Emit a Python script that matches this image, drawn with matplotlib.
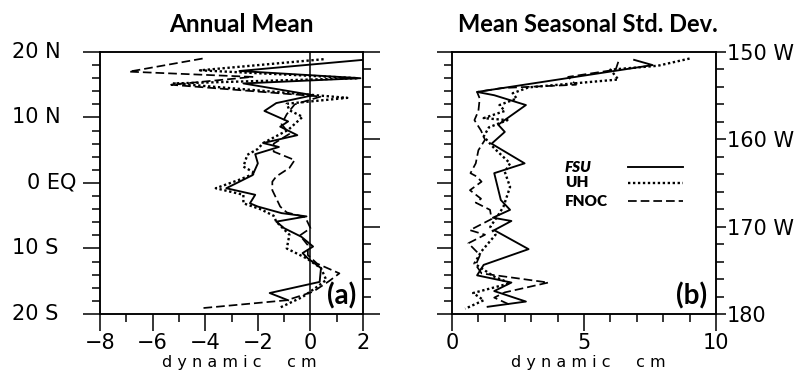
import matplotlib

matplotlib.use("Agg")
import matplotlib.pyplot as plt
import matplotlib.transforms as mtransforms
from matplotlib.ticker import FixedLocator, MultipleLocator

# ---- data: (latitude, value) vertices ----
# (a) annual mean, dynamic cm
fsu_mean_lat = [18.8, 17.1, 16.0, 15.2, 13.4, 12.2, 11.0, 9.4, 8.6, 7.3, 6.1, 5.5, 4.4, 3.0, 1.2,
                -0.8, -1.8, -3.1, -3.6, -4.6, -5.1, -5.9, -6.9, -8.2, -9.7, -10.7, -11.5, -13.0,
                -15.1, -16.8, -17.9]
fsu_mean = [2.0, -2.7, 1.9, -2.55, 0.1, -1.3, -1.75, -0.85, -1.15, -0.5, -1.8, -1.2, -2.1, -2.0, -2.2,
            -3.2, -2.1, -2.3, -2.0, -1.1, -0.15, -1.3, -1.0, -0.35, 0.1, -0.3, -0.1, 0.4,
            0.35, -1.55, -0.85]

uh_mean_lat = [18.9, 17.2, 16.0, 15.2, 13.0, 12.1, 11.1, 10.1, 8.1, 6.1, 5.2, 4.3, 2.5, 1.5, 0.5,
               -0.8, -1.8, -3.1, -4.0, -5.0, -5.9, -7.9, -10.0, -11.5, -13.0, -14.8, -16.0,
               -17.4, -19.1]
uh_mean = [0.5, -4.2, 1.8, -5.2, 1.4, -0.9, -0.8, -0.3, -0.85, -1.8, -2.0, -2.4, -2.55, -2.1, -2.7,
           -3.6, -2.55, -2.55, -1.9, -1.4, -1.3, -0.8, -0.9, -0.15, 0.4, 0.6, 0.2,
           -0.3, -1.2]

fnoc_mean_lat = [19.0, 17.0, 16.2, 15.0, 13.2, 12.0, 10.5, 9.0, 7.5, 6.0, 4.8, 3.5, 2.3, 1.0, 0.2,
                 -1.1, -3.6, -4.5, -5.2, -6.9, -8.0, -9.5, -11.0, -12.3, -13.8, -15.0, -16.6,
                 -17.9, -19.1]
fnoc_mean = [-4.1, -6.9, -2.2, -5.3, 0.4, -0.6, -0.9, -1.1, -0.8, -1.4, -1.4, -0.6, -0.8, -1.3, -1.45,
             -1.45, -1.15, -0.9, -0.2, 0.0, -0.4, -0.1, -0.1, 0.25, 1.1, 0.7, 0.1,
             -0.9, -4.1]

# (b) mean seasonal standard deviation, dynamic cm
fsu_std_lat = [18.8, 18.0, 13.9, 13.4, 11.9, 8.9, 7.8, 6.0, 3.0, 1.5, -2.6, -4.1, -5.3, -5.8, -7.2,
               -10.1, -12.5, -14.1, -15.2, -16.5, -18.1, -18.9]
fsu_std = [6.9, 7.6, 0.95, 1.6, 2.8, 1.75, 2.0, 1.5, 2.75, 1.6, 1.85, 2.2, 1.55, 2.25, 1.6,
           2.9, 1.2, 0.95, 2.25, 1.6, 2.8, 1.35]

uh_std_lat = [19.0, 17.9, 17.3, 15.8, 15.2, 14.6, 13.7, 12.9, 11.9, 11.0, 9.9, 9.6, 8.5, 7.1, 5.3,
              3.0, 1.7, -0.6, -3.6, -4.6, -6.7, -7.9, -10.5, -12.3, -14.3, -15.3, -16.8, -17.9,
              -19.2]
uh_std = [9.0, 7.8, 6.0, 6.3, 4.6, 2.9, 2.3, 2.45, 1.8, 2.0, 1.2, 2.1, 1.4, 1.2, 1.6,
          2.2, 2.0, 2.2, 1.95, 1.8, 1.45, 1.65, 1.1, 0.85, 1.6, 2.2, 0.8, 1.2,
          0.5]

fnoc_std_lat = [18.5, 17.3, 16.2, 15.0, 14.5, 13.9, 12.9, 11.0, 9.6, 8.0, 6.6, 5.0, 3.0, 1.5, 1.0,
                0.2, -1.1, -2.4, -3.0, -4.1, -5.5, -7.2, -7.9, -9.2, -11.0, -12.5, -13.8, -15.2,
                -16.7, -17.5, -18.6]
fnoc_std = [6.3, 6.2, 4.4, 4.7, 1.9, 0.95, 1.05, 1.0, 0.85, 1.1, 1.25, 1.0, 0.9, 0.7, 0.93,
            1.12, 0.68, 1.1, 0.9, 1.44, 1.5, 0.68, 1.25, 0.62, 1.06, 0.9, 1.12, 3.65,
            2.0, 1.6, 2.2]

lat_ticks = [20, 10, 0, -10, -20]
lat_labels = ["20 N", "10 N", "0 EQ", "10 S", "20 S"]
lon_ticks = [150, 160, 170, 180]
lon_labels = ["150 W", "160 W", "170 W", "180"]
mean_xticks = [-8, -6, -4, -2, 0, 2]
std_xticks = [0, 5, 10]
legend_names = ["FSU", "UH", "FNOC"]

TICK_FONT = "DejaVu Sans"
TITLE_FONT = "Lato"

solid = dict(color="black", lw=1.35, linestyle="-")
dotted = dict(color="black", lw=1.7, linestyle=(0, (1, 1.1)))
dashed = dict(color="black", lw=1.25, linestyle=(0, (5, 2.3)))

fig = plt.figure(figsize=(7.99, 3.73), dpi=100)
ax1 = fig.add_axes([0.1252, 0.1582, 0.3292, 0.7024])
ax2 = fig.add_axes([0.5657, 0.1582, 0.3304, 0.7024])


def frame(ax, major_len):
    for sp in ax.spines.values():
        sp.set_linewidth(1.1)
    ax.set_ylim(-20, 20)
    ax.yaxis.set_major_locator(FixedLocator(lat_ticks))
    ax.yaxis.set_minor_locator(MultipleLocator(2))
    ax.tick_params(axis="y", which="major", direction="out", length=major_len, width=1.1,
                   labelleft=False)
    ax.tick_params(axis="y", which="minor", direction="out", length=6, width=1.1)
    ax.xaxis.set_minor_locator(MultipleLocator(1))
    ax.tick_params(axis="x", which="major", direction="out", length=12, width=1.1, pad=2,
                   labelsize=15)
    ax.tick_params(axis="x", which="minor", direction="out", length=6, width=1.1)
    for lab in ax.get_xticklabels():
        lab.set_fontfamily(TICK_FONT)
    axr = ax.twinx()
    axr.set_ylim(180, 150)
    axr.yaxis.set_major_locator(FixedLocator(lon_ticks))
    axr.yaxis.set_minor_locator(MultipleLocator(2))
    for sp in axr.spines.values():
        sp.set_linewidth(1.1)
    axr.tick_params(axis="y", which="minor", direction="out", length=6, width=1.1)
    return axr


# ---- (a) annual mean ----
ax1.plot(fsu_mean, fsu_mean_lat, **solid)
ax1.plot(uh_mean, uh_mean_lat, **dotted)
ax1.plot(fnoc_mean, fnoc_mean_lat, **dashed)
ax1.axvline(0, color="black", lw=1.1)
ax1.set_xlim(-8, 2)
ax1.set_xticks(mean_xticks)
ax1r = frame(ax1, 12)
ax1r.tick_params(axis="y", which="major", direction="out", length=12, width=1.1, labelright=False)

trans = mtransforms.blended_transform_factory(ax1.transAxes, ax1.transData)
for lat, lab in zip(lat_ticks, lat_labels):
    x0 = -0.278 if lat == 0 else -0.335
    ax1.text(x0, lat, lab, transform=trans, ha="left", va="center",
             fontfamily=TICK_FONT, fontsize=15)

ax1.text(0.92, 0.07, "(a)", transform=ax1.transAxes, ha="center", va="center",
         fontfamily=TITLE_FONT, fontweight="bold", fontsize=20)

# ---- (b) mean seasonal std. dev. ----
ax2.plot(fsu_std, fsu_std_lat, **solid)
ax2.plot(uh_std, uh_std_lat, **dotted)
ax2.plot(fnoc_std, fnoc_std_lat, **dashed)
ax2.set_xlim(0, 10)
ax2.set_xticks(std_xticks)
ax2r = frame(ax2, 11)
ax2r.set_yticklabels(lon_labels)
ax2r.tick_params(axis="y", which="major", direction="out", length=7, width=1.1, pad=1,
                 labelsize=15)
for lab in ax2r.get_yticklabels():
    lab.set_fontfamily(TICK_FONT)

ax2.text(0.909, 0.07, "(b)", transform=ax2.transAxes, ha="center", va="center",
         fontfamily=TITLE_FONT, fontweight="bold", fontsize=20)

# legend drawn inside panel (b)
for name, style, y in zip(legend_names, [solid, dotted, dashed], [0.561, 0.5, 0.431]):
    ax2.text(0.428, y, name, transform=ax2.transAxes, ha="left", va="center",
             fontfamily=TITLE_FONT, fontweight="heavy", fontsize=11,
             fontstyle="italic" if name == "FSU" else "normal")
    ax2.plot([0.667, 0.875], [y, y], transform=ax2.transAxes, **style)

# titles and axis labels
fig.text(241 / 799, 1 - 24 / 373, "Annual Mean", ha="center", va="center",
         fontfamily=TITLE_FONT, fontweight="bold", fontsize=17.5)
fig.text(588 / 799, 1 - 24 / 373, "Mean Seasonal Std. Dev.", ha="center", va="center",
         fontfamily=TITLE_FONT, fontweight="bold", fontsize=17)
for xc in [239 / 799, 588 / 799]:
    fig.text(xc, 1 - 362 / 373, "d y n a m i c     c m", ha="center", va="center",
             fontfamily=TICK_FONT, fontsize=11.5)

fig.savefig("out.png", dpi=100)
